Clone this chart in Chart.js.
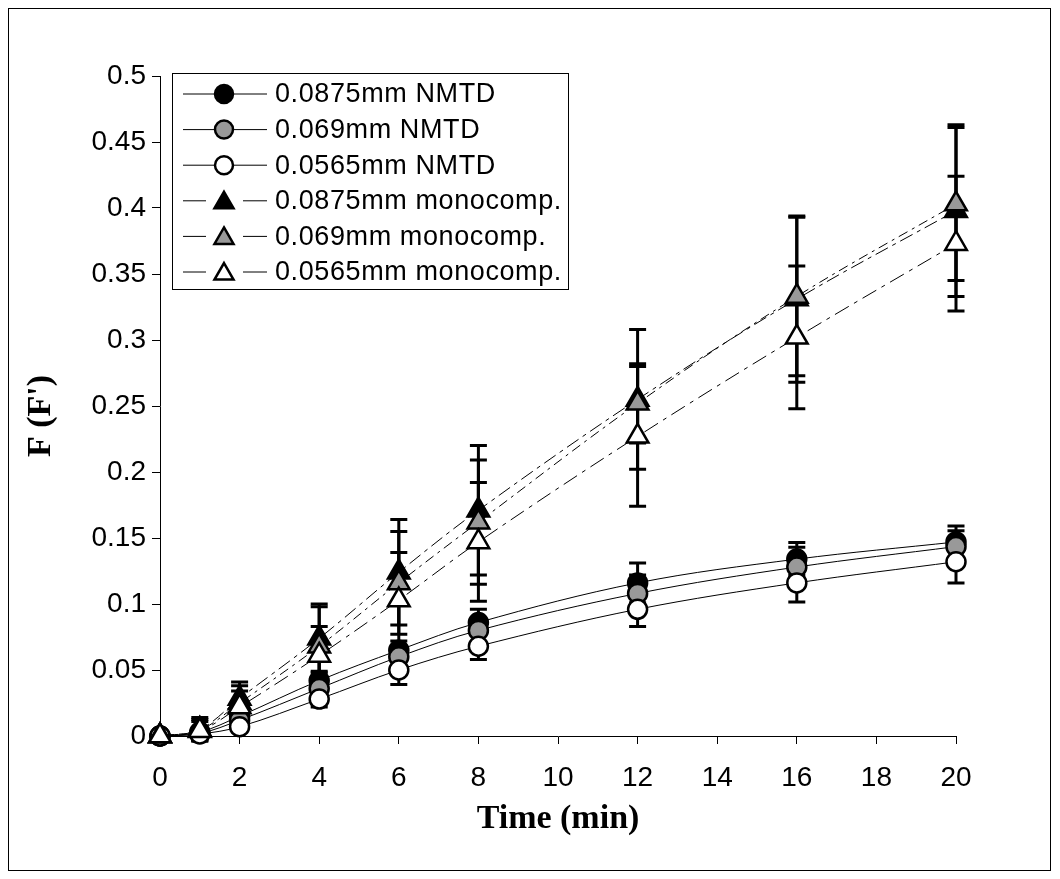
<!DOCTYPE html>
<html>
<head>
<meta charset="utf-8">
<script src="https://cdn.jsdelivr.net/npm/chart.js@4.4.1/dist/chart.umd.min.js"></script>
<style>
  body { margin: 0; background: #fff; }
  #marco { position: relative; width: 1060px; height: 879px; }
</style>
</head>
<body>
<div id="marco"><canvas id="grafico" width="1060" height="879"></canvas></div>
<script>
// tiempos (min)
const tiempos = [0, 1, 2, 4, 6, 8, 12, 16, 20];

// NMTD
const nmtd0875 = [0, 0.003, 0.015, 0.042, 0.065, 0.086, 0.116, 0.134, 0.147];
const errNmtd0875 = [0, 0.003, 0.004, 0.007, 0.007, 0.010, 0.015, 0.0125, 0.012];
const nmtd069 = [0, 0.002, 0.012, 0.036, 0.060, 0.080, 0.108, 0.128, 0.1435];
const errNmtd069 = [0, 0.003, 0.004, 0.006, 0.008, 0.009, 0.014, 0.015, 0.012];
const nmtd0565 = [0, 0.0015, 0.007, 0.028, 0.050, 0.068, 0.096, 0.116, 0.132];
const errNmtd0565 = [0, 0.003, 0.004, 0.006, 0.011, 0.010, 0.013, 0.0145, 0.016];

// monocomp.
const mono0875 = [0, 0.005, 0.0285, 0.074, 0.124, 0.171, 0.255, 0.331, 0.398];
const errMono0875 = [0, 0.009, 0.0125, 0.026, 0.040, 0.049, 0.053, 0.063, 0.065];
const mono069 = [0, 0.0045, 0.025, 0.068, 0.116, 0.162, 0.252, 0.333, 0.403];
const errMono069 = [0, 0.008, 0.013, 0.030, 0.039, 0.047, 0.030, 0.060, 0.058];
const mono0565 = [0, 0.004, 0.022, 0.061, 0.103, 0.147, 0.227, 0.302, 0.373];
const errMono0565 = [0, 0.007, 0.012, 0.022, 0.036, 0.045, 0.053, 0.054, 0.051];

const etiquetas = [
  '0.0875mm NMTD', '0.069mm NMTD', '0.0565mm NMTD',
  '0.0875mm monocomp.', '0.069mm monocomp.', '0.0565mm monocomp.'
];
const tituloX = 'Time (min)';
const tituloY = "F (F')";

const fuente = "'Liberation Sans', Arial, sans-serif";
const fuenteTitulo = "'Liberation Serif', 'Times New Roman', serif";

function puntos(arr) {
  return tiempos.map((t, i) => ({ x: t, y: arr[i] }));
}

function serie(i, valores, errores, relleno, estilo, dash, orden) {
  return {
    label: etiquetas[i],
    data: puntos(valores),
    errores: errores,
    borderColor: '#000',
    borderWidth: 1,
    borderDash: dash,
    tension: 0.35,
    pointStyle: estilo,
    pointRadius: estilo === 'triangle' ? 12.5 : 9.5,
    pointBackgroundColor: relleno,
    pointBorderColor: '#000',
    pointBorderWidth: 2.5,
    clip: false,
    order: orden
  };
}

const datos = {
  datasets: [
    serie(0, nmtd0875, errNmtd0875, '#000', 'circle', [], 6),
    serie(1, nmtd069, errNmtd069, '#999', 'circle', [], 5),
    serie(2, nmtd0565, errNmtd0565, '#fff', 'circle', [], 4),
    serie(3, mono0875, errMono0875, '#000', 'triangle', [14, 5, 4, 5], 3),
    serie(4, mono069, errMono069, '#999', 'triangle', [10, 5, 3, 5], 2),
    serie(5, mono0565, errMono0565, '#fff', 'triangle', [16, 6, 4, 6], 1)
  ]
};

// fondo, marco exterior y titulo vertical
const marcoExterior = {
  id: 'marcoExterior',
  beforeDraw(chart) {
    const ctx = chart.ctx;
    ctx.save();
    ctx.fillStyle = '#fff';
    ctx.fillRect(0, 0, chart.width, chart.height);
    ctx.restore();
  },
  afterDraw(chart) {
    const ctx = chart.ctx;
    ctx.save();
    ctx.strokeStyle = '#000';
    ctx.lineWidth = 1;
    ctx.strokeRect(8.5, 8.5, 1042, 862);
    ctx.translate(41, 416);
    ctx.rotate(-Math.PI / 2);
    ctx.fillStyle = '#000';
    ctx.font = 'bold 34px ' + fuenteTitulo;
    ctx.textAlign = 'center';
    ctx.textBaseline = 'middle';
    ctx.fillText(tituloY, 0, 0);
    ctx.restore();
  }
};

// barras de error
const barrasError = {
  id: 'barrasError',
  beforeDatasetsDraw(chart) {
    const { ctx, scales: { x, y } } = chart;
    ctx.save();
    ctx.strokeStyle = '#000';
    ctx.lineWidth = 3;
    chart.data.datasets.forEach(ds => {
      ds.data.forEach((p, i) => {
        const e = ds.errores[i];
        if (!e) return;
        const px = x.getPixelForValue(p.x);
        const arriba = y.getPixelForValue(p.y + e);
        const abajo = y.getPixelForValue(p.y - e);
        ctx.beginPath();
        ctx.moveTo(px, arriba); ctx.lineTo(px, abajo);
        ctx.moveTo(px - 8.5, arriba); ctx.lineTo(px + 8.5, arriba);
        ctx.moveTo(px - 8.5, abajo); ctx.lineTo(px + 8.5, abajo);
        ctx.stroke();
      });
    });
    ctx.restore();
  }
};

function marcador(ctx, estilo, cx, cy, r) {
  ctx.beginPath();
  if (estilo === 'triangle') {
    ctx.moveTo(cx, cy - r);
    ctx.lineTo(cx + r * 0.866, cy + r * 0.5);
    ctx.lineTo(cx - r * 0.866, cy + r * 0.5);
    ctx.closePath();
  } else {
    ctx.arc(cx, cy, r, 0, Math.PI * 2);
  }
  ctx.fill();
  ctx.stroke();
}

// leyenda dentro del area
const leyenda = {
  id: 'leyenda',
  afterDraw(chart) {
    const ctx = chart.ctx;
    ctx.save();
    ctx.fillStyle = '#fff';
    ctx.fillRect(172, 73, 396, 216);
    ctx.strokeStyle = '#000';
    ctx.lineWidth = 1;
    ctx.strokeRect(172.5, 73.5, 396, 216);
    chart.data.datasets.forEach((ds, i) => {
      const yy = 94 + i * 35.6;
      ctx.strokeStyle = '#000';
      ctx.lineWidth = 1;
      ctx.beginPath();
      if (ds.borderDash.length) {
        ctx.moveTo(183, yy); ctx.lineTo(206, yy);
        ctx.moveTo(243, yy); ctx.lineTo(267, yy);
      } else {
        ctx.moveTo(183, yy); ctx.lineTo(267, yy);
      }
      ctx.stroke();
      ctx.fillStyle = ds.pointBackgroundColor;
      ctx.lineWidth = 2.5;
      if (ds.pointStyle === 'triangle') marcador(ctx, 'triangle', 224, yy + 2, 11);
      else marcador(ctx, 'circle', 224, yy, 9);
      ctx.fillStyle = '#000';
      ctx.font = '27px ' + fuente;
      ctx.letterSpacing = '0.6px';
      ctx.textBaseline = 'middle';
      ctx.textAlign = 'left';
      ctx.fillText(ds.label, 275, yy + 1);
      ctx.letterSpacing = '0px';
    });
    ctx.restore();
  }
};

const grafico = new Chart(document.getElementById('grafico'), {
  type: 'line',
  data: datos,
  plugins: [marcoExterior, barrasError, leyenda],
  options: {
    responsive: false,
    devicePixelRatio: 1,
    animation: false,
    layout: { padding: { left: 0, top: 76, right: 104, bottom: 0 } },
    plugins: {
      legend: { display: false },
      tooltip: { enabled: false }
    },
    scales: {
      x: {
        type: 'linear',
        min: 0,
        max: 20,
        afterFit: s => { s.height = 143; },
        ticks: { stepSize: 2, color: '#000', font: { family: fuente, size: 28 }, padding: 17, maxRotation: 0 },
        grid: { drawOnChartArea: false, drawTicks: true, tickLength: 8, color: '#000' },
        border: { color: '#000', width: 1 },
        title: {
          display: true, text: tituloX, color: '#000',
          font: { family: fuenteTitulo, size: 34, weight: 'bold' },
          padding: { top: 0, bottom: 39 }
        }
      },
      y: {
        min: 0,
        max: 0.5,
        afterFit: s => { s.width = 160; },
        ticks: {
          stepSize: 0.05, color: '#000', padding: 6,
          font: { family: fuente, size: 28 },
          callback: v => String(+v.toFixed(2))
        },
        grid: { drawOnChartArea: false, drawTicks: true, tickLength: 8, color: '#000' },
        border: { color: '#000', width: 1 },
        title: { display: false }
      }
    }
  }
});
</script>
</body>
</html>
